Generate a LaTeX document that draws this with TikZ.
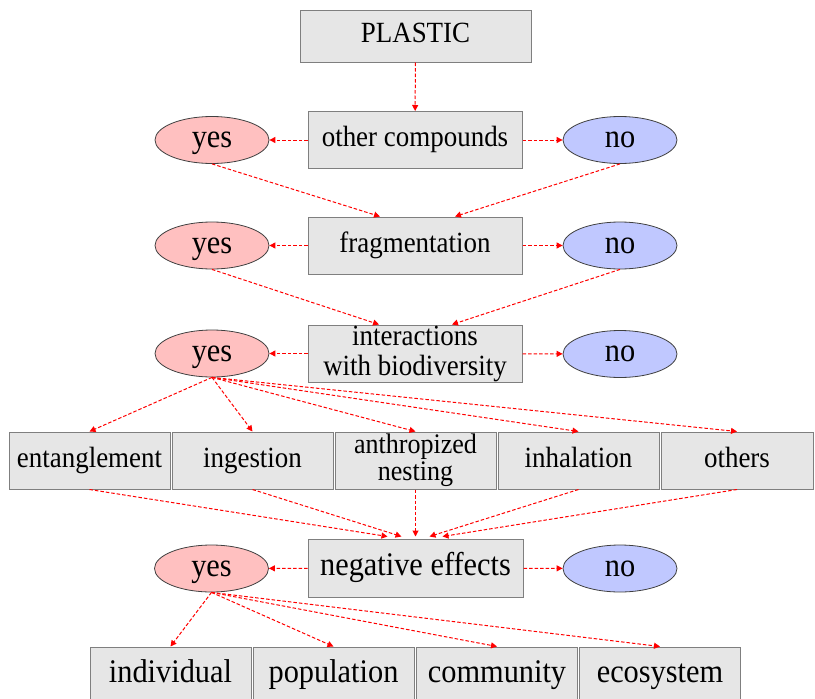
\documentclass[tikz,border=0pt]{standalone}
\usepackage{fontspec}
\setmainfont{Liberation Serif}[FakeStretch=0.92]
\usetikzlibrary{arrows.meta,shapes.geometric,calc}
\definecolor{boxfill}{HTML}{E6E6E6}
\definecolor{boxline}{HTML}{7F7F7F}
\definecolor{yesfill}{HTML}{FFC0C0}
\definecolor{nofill}{HTML}{C0C8FF}
\definecolor{ellline}{HTML}{404040}
\tikzset{
  gbox/.style={draw=boxline, fill=boxfill, line width=1pt, inner sep=0pt, align=center,
    font=\fontsize{29.3}{30}\selectfont},
  one/.style={text height=20pt, text depth=6.5pt},
  bigtext/.style={font=\fontsize{33}{34}\selectfont, text height=22.5pt, text depth=7pt},
  ellbase/.style={ellipse, line width=0.8pt, inner sep=0pt, draw=ellline,
    minimum width=114pt, minimum height=47pt, font=\fontsize{33}{34}\selectfont,
    text height=15.5pt, text depth=0pt},
  yesell/.style={ellbase, fill=yesfill},
  noell/.style={ellbase, fill=nofill},
  rarr/.style={draw=red, line width=1pt, dash pattern=on 3.5pt off 2pt,
    -{Triangle[length=6pt,width=6pt]}},
}
\begin{document}
\begin{tikzpicture}[x=1pt,y=-1pt]
\useasboundingbox (0,0) rectangle (815,699);
\clip (0,0) rectangle (815,699);
% row 0
\node[gbox, one, minimum width=231pt, minimum height=52pt] (plastic) at (415.5,36) {PLASTIC};
% row 1
\node[gbox, one, minimum width=214pt, minimum height=57pt] (oc) at (415,140) {other compounds};
\node[yesell] (y1) at (212,140) {yes};
\node[noell] (n1) at (620,140) {no};
% row 2
\node[gbox, one, minimum width=214pt, minimum height=57pt] (frag) at (415,245.5) {fragmentation};
\node[yesell] (y2) at (212,245.5) {yes};
\node[noell] (n2) at (620,245.5) {no};
% row 3
\node[gbox, minimum width=214pt, minimum height=57pt, font=\fontsize{29.3}{30}\selectfont] (inter) at (415,353.5) {interactions\\with biodiversity};
\node[yesell] (y3) at (212,353.5) {yes};
\node[noell] (n3) at (620,354) {no};
% row 4
\node[gbox, one, minimum width=161pt, minimum height=57pt] (ent) at (89.5,460.5) {entanglement};
\node[gbox, one, minimum width=161pt, minimum height=57pt] (ing) at (252.5,460.5) {ingestion};
\node[gbox, minimum width=161pt, minimum height=57pt, font=\fontsize{28.3}{27}\selectfont] (ant) at (415.5,460.5) {anthropized\\nesting};
\node[gbox, one, minimum width=161pt, minimum height=57pt] (inh) at (578.5,460.5) {inhalation};
\node[gbox, one, minimum width=152pt, minimum height=57pt] (oth) at (737,460.5) {others};
% row 5
\node[gbox, bigtext, minimum width=215pt, minimum height=58pt] (neg) at (415.5,568) {negative effects};
\node[yesell] (y5) at (211.5,568.5) {yes};
\node[noell] (n5) at (620,568.5) {no};
% row 6
\node[gbox, bigtext, minimum width=161pt, minimum height=56pt] (ind) at (170.5,675) {individual};
\node[gbox, bigtext, minimum width=161pt, minimum height=56pt] (pop) at (333.5,675) {population};
\node[gbox, bigtext, minimum width=161pt, minimum height=56pt] (com) at (497,675) {community};
\node[gbox, bigtext, minimum width=161pt, minimum height=56pt] (eco) at (660,675) {ecosystem};
% target coordinates
\coordinate (f1) at ($(frag.north)+(-35,0)$);
\coordinate (f2) at ($(frag.north)+(40,0)$);
\coordinate (i1) at ($(inter.north)+(-36,0)$);
\coordinate (i2) at ($(inter.north)+(37,0)$);
\coordinate (g1) at ($(neg.north)+(-28,-2)$);
\coordinate (g2) at ($(neg.north)+(-14,-2)$);
\coordinate (g3) at ($(neg.north)+(0,-2)$);
\coordinate (g4) at ($(neg.north)+(14,-2)$);
\coordinate (g5) at ($(neg.north)+(27,-2)$);
% arrows
\draw[rarr] (plastic) -- (oc);
\draw[rarr] (oc) -- (y1);
\draw[rarr] (oc) -- (n1);
\draw[rarr] (y1.south) -- (f1);
\draw[rarr] (n1.south) -- (f2);
\draw[rarr] (frag) -- (y2);
\draw[rarr] (frag) -- (n2);
\draw[rarr] (y2.south) -- (i1);
\draw[rarr] (n2.south) -- (i2);
\draw[rarr] (inter) -- (y3);
\draw[rarr] (inter) -- (n3);
\foreach \t in {ent,ing,ant,inh,oth} \draw[rarr] (y3.south) -- (\t.north);
\draw[rarr] (ent.south) -- (g1);
\draw[rarr] (ing.south) -- (g2);
\draw[rarr] (ant.south) -- (g3);
\draw[rarr] (inh.south) -- (g4);
\draw[rarr] (oth.south) -- (g5);
\draw[rarr] (neg) -- (y5);
\draw[rarr] (neg) -- (n5);
\foreach \t in {ind,pop,com,eco} \draw[rarr] (y5.south) -- (\t.north);
\end{tikzpicture}
\end{document}
